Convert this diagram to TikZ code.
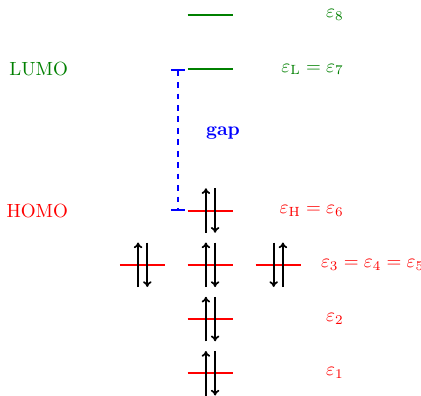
\documentclass[tikz,border=0pt]{standalone}
\usepackage{xcolor}
\usepackage{tikz}
\usetikzlibrary{arrows.meta,positioning}
\definecolor{occred}{RGB}{255,0,0}
\definecolor{virtgreen}{RGB}{0,128,0}
\definecolor{gapblue}{RGB}{0,0,255}

\begin{document}
\begin{tikzpicture}[
  occlevel/.style={draw=occred, line width=1.05pt},
  virtlevel/.style={draw=virtgreen, line width=1.05pt},
  spin/.style={line width=0.9pt, -{To[length=3pt,width=4.5pt]}},
  gapline/.style={line width=0.9pt, dashed, draw=gapblue, {Bar[width=0.26cm]}-{Bar[width=0.26cm]}},
  elabel/.style={inner sep=0pt}
]
  \useasboundingbox (-3.88,-0.41) rectangle (3.88,6.88);
  % occupied levels
  \foreach \name/\xpos/\ypos in {e1/0/0, e2/0/1, ea/-1.25/2, eb/0/2, ec/1.25/2, eH/0/3} {
    \coordinate (\name) at (\xpos,\ypos);
    \draw[occlevel] ([xshift=-0.42cm]\name) -- ([xshift=0.42cm]\name);
  }
  % virtual levels
  \foreach \name/\xpos/\ypos in {eL/0/5.6, e8/0/6.6} {
    \coordinate (\name) at (\xpos,\ypos);
    \draw[virtlevel] ([xshift=-0.42cm]\name) -- ([xshift=0.42cm]\name);
  }
  % electron pairs
  \foreach \name/\s in {e1/1, e2/1, ea/1, eb/1, eH/1, ec/-1} {
    \draw[spin] ([xshift=-\s*0.085cm, yshift=-0.41cm]\name) -- ([xshift=-\s*0.085cm, yshift=0.41cm]\name);
    \draw[spin] ([xshift=\s*0.085cm, yshift=0.41cm]\name) -- ([xshift=\s*0.085cm, yshift=-0.41cm]\name);
  }
  % level labels
  \node[elabel, anchor=east, text=virtgreen] (lab8) at (2.46,6.6) {$\varepsilon_8$};
  \node[elabel, anchor=east, text=virtgreen] (labL) at (2.46,5.6) {$\varepsilon_{\mathrm{L}} = \varepsilon_7$};
  \node[elabel, anchor=east, text=occred] (labH) at (2.46,3) {$\varepsilon_{\mathrm{H}} = \varepsilon_6$};
  \node[elabel, anchor=west, text=occred] (labdeg) at (2.03,2) {$\varepsilon_3 = \varepsilon_4 = \varepsilon_5$};
  \node[elabel, anchor=east, text=occred] (lab2) at (2.46,1) {$\varepsilon_2$};
  \node[elabel, anchor=east, text=occred] (lab1) at (2.46,0) {$\varepsilon_1$};
  \node[elabel, anchor=east, text=virtgreen] (lumo) at (-2.62,5.6) {LUMO};
  \node[elabel, anchor=east, text=occred] (homo) at (-2.62,3) {HOMO};
  % HOMO-LUMO gap
  \coordinate (gaptop) at (-0.6,5.6);
  \coordinate (gapbot) at (-0.6,3);
  \draw[gapline] (gaptop) -- (gapbot);
  \node[text=gapblue, font=\bfseries] (gap) at (0.23,4.42) {gap};
\end{tikzpicture}
\end{document}
